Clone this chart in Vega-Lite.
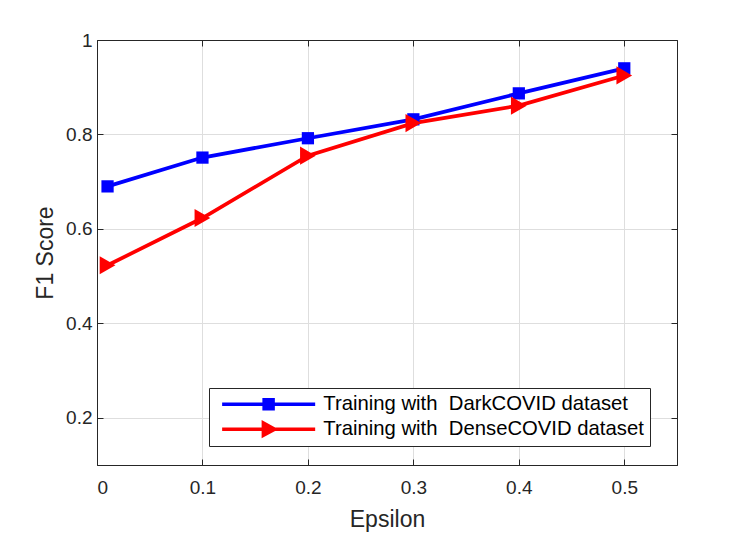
{
  "$schema": "https://vega.github.io/schema/vega-lite/v6.json",
  "width": 580,
  "height": 425,
  "autosize": {"type": "none"},
  "padding": {"left": 97, "top": 40, "right": 70, "bottom": 69},
  "background": "white",
  "config": {
    "view": {"stroke": "#262626", "strokeWidth": 1},
    "font": "Liberation Sans",
    "axis": {
      "labelFont": "Liberation Sans",
      "labelFontSize": 19,
      "labelColor": "#262626",
      "titleFont": "Liberation Sans",
      "titleFontSize": 23,
      "titleFontWeight": "normal",
      "titleColor": "#262626",
      "domainColor": "#262626",
      "tickColor": "#262626",
      "tickSize": -6,
      "gridColor": "#dedede",
      "gridWidth": 1
    }
  },
  "data": {
    "values": [
      {"eps": 0.01, "f1": 0.69, "series": "Training with\u00a0 DarkCOVID dataset"},
      {"eps": 0.1, "f1": 0.751, "series": "Training with\u00a0 DarkCOVID dataset"},
      {"eps": 0.2, "f1": 0.792, "series": "Training with\u00a0 DarkCOVID dataset"},
      {"eps": 0.3, "f1": 0.832, "series": "Training with\u00a0 DarkCOVID dataset"},
      {"eps": 0.4, "f1": 0.887, "series": "Training with\u00a0 DarkCOVID dataset"},
      {"eps": 0.5, "f1": 0.94, "series": "Training with\u00a0 DarkCOVID dataset"},
      {"eps": 0.01, "f1": 0.523, "series": "Training with\u00a0 DenseCOVID dataset"},
      {"eps": 0.1, "f1": 0.623, "series": "Training with\u00a0 DenseCOVID dataset"},
      {"eps": 0.2, "f1": 0.755, "series": "Training with\u00a0 DenseCOVID dataset"},
      {"eps": 0.3, "f1": 0.824, "series": "Training with\u00a0 DenseCOVID dataset"},
      {"eps": 0.4, "f1": 0.861, "series": "Training with\u00a0 DenseCOVID dataset"},
      {"eps": 0.5, "f1": 0.925, "series": "Training with\u00a0 DenseCOVID dataset"}
    ]
  },
  "layer": [
    {
      "encoding": {
        "x": {
          "field": "eps",
          "type": "quantitative",
          "scale": {"domain": [0, 0.55], "nice": false, "zero": false},
          "axis": {
            "values": [0, 0.1, 0.2, 0.3, 0.4, 0.5],
            "format": ".1~f",
            "labelPadding": 19.5,
            "title": "Epsilon",
            "titleBaseline": "alphabetic",
            "titleY": 61
          }
        },
        "y": {
          "field": "f1",
          "type": "quantitative",
          "scale": {"domain": [0.1, 1], "nice": false, "zero": false},
          "axis": {
            "values": [0.2, 0.4, 0.6, 0.8, 1],
            "format": ".1~f",
            "labelPadding": 11,
            "title": "F1 Score",
            "titleBaseline": "alphabetic",
            "titleX": -45
          }
        },
        "color": {
          "field": "series",
          "type": "nominal",
          "scale": {
            "domain": ["Training with\u00a0 DarkCOVID dataset", "Training with\u00a0 DenseCOVID dataset"],
            "range": ["#0000ff", "#ff0000"]
          },
          "legend": {
            "title": null,
            "orient": "none",
            "legendX": 112,
            "legendY": 348,
            "labelFont": "Liberation Sans",
            "labelFontSize": 20.3,
            "labelColor": "#000000",
            "labelLimit": 0,
            "labelOffset": 88,
            "strokeColor": "#262626",
            "fillColor": "white",
            "padding": 6,
            "rowPadding": 4,
            "symbolSize": 196,
            "symbolStrokeWidth": 0,
            "encode": {
              "symbols": {
                "update": {
                  "shape": {"signal": "indexof(datum.value, 'Dark') >= 0 ? 'M-0.43,-0.25H12.86V0.25H-0.43ZM5.32,-0.89H7.1V0.89H5.32Z' : 'M-0.43,-0.25H12.86V0.25H-0.43ZM5.21,-1.31L7.6,0L5.21,1.31Z'"},
                  "fill": {"signal": "scale('color', datum.value)"},
                  "stroke": {"value": "transparent"},
                  "strokeWidth": {"value": 0},
                  "opacity": {"value": 1}
                }
              }
            }
          }
        }
      },
      "layer": [
        {
          "mark": {"type": "line", "strokeWidth": 3.7}
        },
        {
          "mark": {"type": "point", "filled": true, "opacity": 1},
          "encoding": {
            "shape": {
              "condition": {"test": "indexof(datum.series, 'Dark') >= 0", "value": "square"},
              "value": "triangle-right"
            },
            "size": {
              "condition": {"test": "indexof(datum.series, 'Dark') >= 0", "value": 150},
              "value": 330
            }
          }
        }
      ]
    },
    {
      "mark": {"type": "point", "opacity": 0},
      "encoding": {
        "x": {
          "field": "eps",
          "type": "quantitative",
          "axis": {
            "orient": "top",
            "values": [0, 0.1, 0.2, 0.3, 0.4, 0.5],
            "labels": false,
            "grid": false,
            "title": null
          }
        },
        "y": {
          "field": "f1",
          "type": "quantitative",
          "axis": {
            "orient": "right",
            "values": [0.2, 0.4, 0.6, 0.8, 1],
            "labels": false,
            "grid": false,
            "title": null
          }
        }
      }
    }
  ],
  "resolve": {"axis": {"x": "independent", "y": "independent"}}
}
